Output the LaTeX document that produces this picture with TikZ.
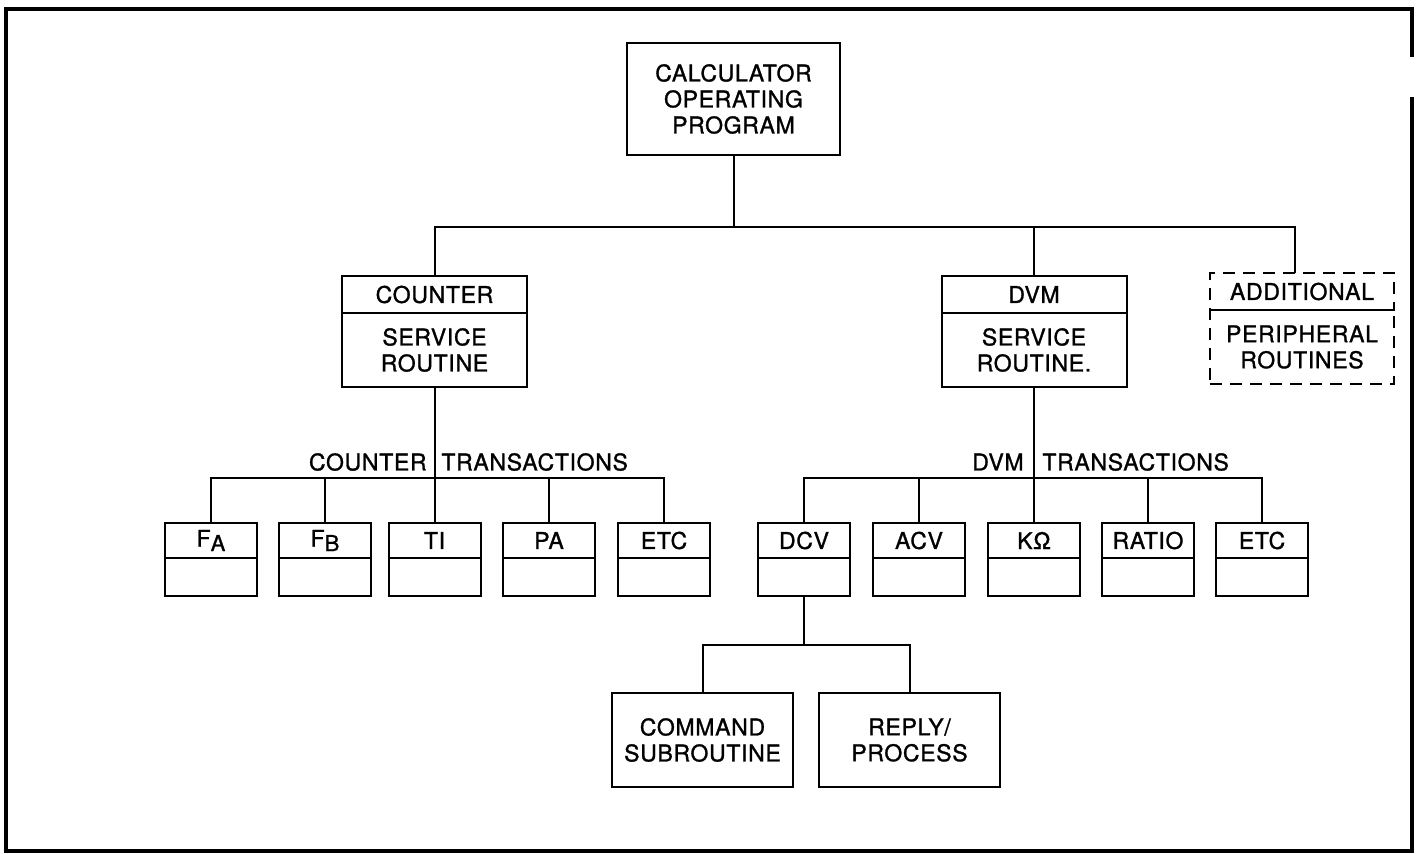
\documentclass[tikz,border=0pt]{standalone}
\usepackage{fontspec}
\setmainfont{TeX Gyre Heros}[FakeBold=1.2,LetterSpace=3]
\usetikzlibrary{positioning}
\newcommand\tief[1]{\raisebox{-2.2pt}{\fontsize{11}{12}\selectfont #1}}
\tikzset{
  kasten/.style={draw,line width=1pt,align=center,inner sep=2pt,outer sep=0pt,font=\fontsize{11.5}{13}\selectfont},
  kopf/.style={kasten,minimum width=92.5pt,minimum height=18.5pt},
  rumpf/.style={kasten,minimum width=92.5pt,minimum height=37pt},
  klein/.style={kasten,minimum width=46pt,minimum height=17.5pt},
  kleinu/.style={kasten,minimum width=46pt,minimum height=19pt},
  gross/.style={kasten,minimum width=90.5pt,minimum height=47pt},
  gestrichelt/.style={dash pattern=on 6pt off 4pt},
  strich/.style={line width=1pt},
  rahmen/.style={line width=1.6pt},
  lbl/.style={inner sep=0pt,font=\fontsize{11.5}{13}\selectfont},
}

\begin{document}
\begin{tikzpicture}[x=0.5pt,y=-0.5pt]
  \useasboundingbox (0,0) rectangle (1422,853);
  % frame
  \draw[rahmen] (1412,57) -- (1412,9) -- (6,9) -- (6,851) -- (1412,851) -- (1412,97);

  % top
  \node[kasten,minimum width=106.5pt,minimum height=56pt] (cop) at (733.5,99) {CALCULATOR\\OPERATING\\PROGRAM};

  % service routines
  \node[kopf] (cnt) at (434.5,294.5) {COUNTER};
  \node[rumpf,below=0pt of cnt] (cnt-u) {SERVICE\\ROUTINE};
  \node[kopf] (dvm) at (1034,294.5) {DVM};
  \node[rumpf,below=0pt of dvm] (dvm-u) {SERVICE\\ROUTINE.};
  \node[kopf,gestrichelt,minimum width=92pt] (add) at (1302,291.5) {ADDITIONAL};
  \node[rumpf,gestrichelt,minimum width=92pt,below=0pt of add] (add-u) {PERIPHERAL\\ROUTINES};
  \draw[strich] (add.south west) -- (add.south east);

  % transactions
  \foreach \n/\x/\t in {fa/211/F\tief{A},fb/325/F\tief{B},ti/434.5/TI,pa/549/PA,etca/664/ETC,
                        dcv/804/DCV,acv/919/ACV,kohm/1034/KΩ,ratio/1148/RATIO,etcb/1262/ETC} {
    \node[klein] (\n) at (\x,540.5) {\t};
    \node[kleinu,below=0pt of \n] (\n-u) {};
  }

  % DCV subroutines
  \node[gross] (cmd) at (702.5,740) {COMMAND\\SUBROUTINE};
  \node[gross] (rep) at (909.5,740) {REPLY/\\PROCESS};

  % connectors
  \coordinate (b0) at (733.5,227);
  \draw[strich] (cop.south) -- (b0);
  \draw[strich] (cnt.north) |- (b0) -| ([xshift=-3.5pt]add.north);
  \draw[strich] (b0) -| (dvm.north);

  \coordinate (b1) at (434.5,478);
  \draw[strich] (cnt-u.south) -- (ti.north);
  \draw[strich] (fa.north) |- (b1) -| (etca.north);
  \foreach \n in {fb,pa} \draw[strich] (\n.north) -- (\n.north |- b1);

  \coordinate (b2) at (1034,478);
  \draw[strich] (dvm-u.south) -- (kohm.north);
  \draw[strich] (dcv.north) |- (b2) -| (etcb.north);
  \foreach \n in {acv,ratio} \draw[strich] (\n.north) -- (\n.north |- b2);

  \coordinate (b3) at (804,645);
  \draw[strich] (dcv-u.south) -- (b3);
  \draw[strich] (cmd.north) |- (b3) -| (rep.north);

  % labels
  \node[lbl,anchor=east] (ctl) at (427,462) {COUNTER};
  \node[lbl,anchor=west] (ctr) at (441,462) {TRANSACTIONS};
  \node[lbl,anchor=east] (dtl) at (1024,462) {DVM};
  \node[lbl,anchor=west] (dtr) at (1042,462) {TRANSACTIONS};
\end{tikzpicture}
\end{document}
